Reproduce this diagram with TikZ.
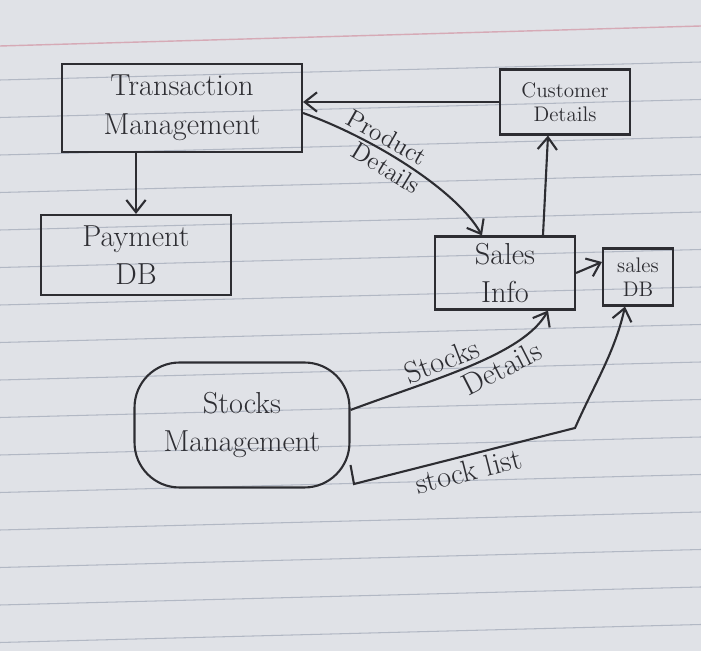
\documentclass[tikz,border=0pt]{standalone}
\usetikzlibrary{arrows.meta}
\definecolor{paper}{RGB}{224,226,231}
\definecolor{rule}{RGB}{178,184,196}
\definecolor{margin}{RGB}{214,170,182}
\definecolor{pen}{RGB}{45,45,50}
\tikzset{
  box/.style={draw=pen,line width=1.2pt,align=center,text=pen,inner sep=0pt},
  flow/.style={draw=pen,line width=1.2pt,-{Straight Barb[length=7pt,width=11pt]}},
  lbl/.style={text=pen,font=\LARGE,inner sep=2pt}
}
\begin{document}
\begin{tikzpicture}[x=0.02cm,y=-0.02cm]

\useasboundingbox[fill=paper] (0,0) rectangle (701,651);
% ruled paper
\draw[margin,line width=0.8pt] (0,46) -- (701,26);
\foreach \k in {0,...,15}
  \draw[rule,line width=0.6pt] (0,80+37.5*\k) -- (701,62+37.5*\k);

   \node[box,font=\LARGE,minimum width=4.8cm,minimum height=1.76cm] at (182,108) (TM) {Transaction\\Management};
   \node[box,font=\LARGE,minimum width=3.8cm,minimum height=1.6cm] at (136,255) (PDB) {Payment\\DB};
   \node[box,font=\large,minimum width=2.6cm,minimum height=1.3cm] at (565,102) (CD) {Customer\\Details};
   \node[box,font=\LARGE,minimum width=2.8cm,minimum height=1.46cm] at (505,273) (SI) {Sales\\Info};
   \node[box,font=\large,minimum width=1.4cm,minimum height=1.14cm] at (638,277) (SDB) {sales\\DB};
   \node[box,font=\LARGE,rounded corners=0.9cm,minimum width=4.3cm,minimum height=2.5cm] at (242,425) (SM) {Stocks\\Management};

   \coordinate (bendA) at (354,484);
   \coordinate (bendB) at (575,428);

    \draw[flow] (CD.west) -- (TM.east |- CD.west);
    \draw[flow] (PDB.north |- TM.south) -- (PDB.north);

    \draw[flow] ([yshift=-0.1cm]TM.east) .. controls +(70,25) and +(-25,-45) .. ([xshift=0.96cm]SI.north west)
       node[lbl,font=\Large,pos=0.36,sloped,above] {Product}
       node[lbl,font=\Large,pos=0.42,sloped,below] {Details};

    \draw[flow] ([xshift=0.76cm]SI.north) -- ([xshift=-0.34cm]CD.south);
    \draw[flow] (SI.east) -- ([yshift=0.3cm]SDB.west);

    \draw[flow] ([yshift=0.3cm]SM.east) .. controls +(80,-30) and +(-25,45) .. ([xshift=0.86cm]SI.south)
       node[lbl,pos=0.4,sloped,above] {Stocks}
       node[lbl,pos=0.62,sloped,below] {Details};

    \draw[flow] ([yshift=-0.8cm]SM.east) -- (bendA) -- (bendB)
       node[lbl,midway,sloped,below] {stock list}
       .. controls +(20,-45) and +(-10,45) .. ([xshift=-0.26cm]SDB.south);

\end{tikzpicture}
\end{document}
